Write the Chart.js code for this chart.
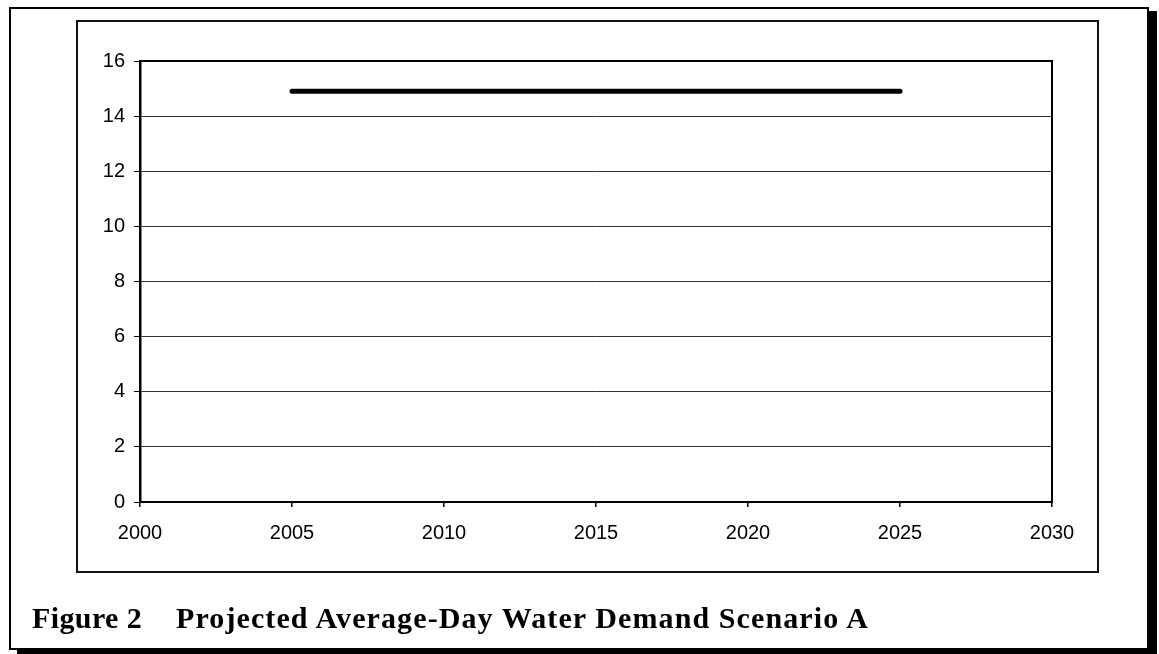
<!DOCTYPE html>
<html>
<head>
<meta charset="utf-8">
<script src="https://cdn.jsdelivr.net/npm/chart.js@4"></script>
<style>
  html, body { margin: 0; padding: 0; background: #fff; }
  body { width: 1159px; height: 654px; position: relative; overflow: hidden; }
  #frame {
    position: absolute; left: 9px; top: 7px; width: 1136px; height: 639px;
    border: 2px solid #000; box-shadow: 8px 4px 0 0 #000;
  }
  #panel {
    position: absolute; left: 76px; top: 20px; width: 1019px; height: 549px;
    border: 2px solid #111;
  }
  #chart { position: absolute; left: 0; top: 0; }
  .caption {
    position: absolute; top: 603px; margin: 0; white-space: nowrap;
    font-family: "Liberation Serif", "Times New Roman", serif;
    font-weight: bold; font-size: 30px; line-height: 30px; color: #000;
  }
  #figno { left: 32px; letter-spacing: 0.4px; }
  #figtitle { left: 176px; letter-spacing: 1.1px; }
</style>
</head>
<body>
<div id="frame"></div>
<div id="panel"></div>
<canvas id="chart" width="1159" height="654"></canvas>
<p class="caption" id="figno">Figure 2</p>
<p class="caption" id="figtitle">Projected Average-Day Water Demand Scenario A</p>
<script>
// Projected average-day demand by year
const years = [2005, 2010, 2015, 2020, 2025];
const demand = [14.9, 14.9, 14.9, 14.9, 14.9];

// Axis ranges and tick steps
const xRange = [2000, 2030];
const xStep = 5;
const yRange = [0, 16];
const yStep = 2;

const tickFont = { family: "'Liberation Sans', Arial, sans-serif", size: 20 };

// Closes the plot area with a border on all four sides
const plotFrame = {
  id: 'plotFrame',
  afterDatasetsDraw(chart) {
    const { ctx, chartArea: a } = chart;
    ctx.save();
    ctx.strokeStyle = '#000';
    ctx.lineWidth = 2;
    ctx.strokeRect(a.left, a.top, a.right - a.left, a.bottom - a.top);
    ctx.restore();
  }
};

new Chart(document.getElementById('chart'), {
  type: 'line',
  data: {
    datasets: [{
      data: years.map((y, i) => ({ x: y, y: demand[i] })),
      borderColor: '#000',
      borderWidth: 5,
      borderCapStyle: 'round',
      pointRadius: 0,
      tension: 0,
      fill: false
    }]
  },
  options: {
    responsive: false,
    animation: false,
    devicePixelRatio: 1,
    layout: { padding: { left: 40, top: 61, right: 107, bottom: 92 } },
    plugins: { legend: { display: false }, tooltip: { enabled: false } },
    scales: {
      x: {
        type: 'linear',
        min: xRange[0], max: xRange[1],
        afterFit(s) { s.height = 60; },
        ticks: { stepSize: xStep, font: tickFont, color: '#000', padding: 14, maxRotation: 0,
                 callback: v => String(v) },
        grid: { drawOnChartArea: false, drawTicks: true, tickLength: 5, color: '#000', lineWidth: 1.5 },
        border: { display: true, color: '#000', width: 2 }
      },
      y: {
        min: yRange[0], max: yRange[1],
        afterFit(s) { s.width = 100; },
        ticks: { stepSize: yStep, font: tickFont, color: '#000', padding: 9 },
        grid: { color: '#333', lineWidth: 1, tickLength: 6, tickColor: '#000' },
        border: { display: true, color: '#000', width: 2.5 }
      }
    }
  },
  plugins: [plotFrame]
});
</script>
</body>
</html>
